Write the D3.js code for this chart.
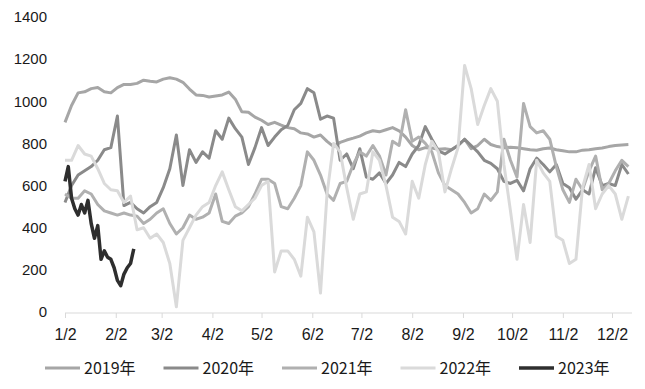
<!DOCTYPE html>
<html>
  <head>
    <meta charset="utf-8">
    <style>
      body { margin: 0; background: #fff; }
      .tick text { fill: #1a1a1a; }
    </style>
  </head>
  <body>
    <script src="https://cdn.jsdelivr.net/npm/d3@7"></script>
    <script>
      // x labels / ticks (2nd of every month)
      var monthLabels = ["1/2", "2/2", "3/2", "4/2", "5/2", "6/2", "7/2", "8/2", "9/2", "10/2", "11/2", "12/2"];
      var yTicks = [0, 200, 400, 600, 800, 1000, 1200, 1400];

      // one value every 4 days, starting 1/2
      var v2019 = [900, 980, 1040, 1045, 1060, 1065, 1045, 1040, 1065, 1080, 1080, 1085, 1100, 1095, 1092, 1105, 1112, 1105, 1090, 1058,
                   1030, 1028, 1020, 1025, 1030, 1044, 1010, 950, 948, 925, 910, 890, 900, 887, 875, 870, 850, 845, 830, 840,
                   810, 785, 805, 816, 825, 835, 850, 860, 855, 865, 875, 860, 830, 790, 770, 780, 778, 772, 775, 770,
                   790, 820, 775, 790, 820, 795, 785, 780, 782, 780, 775, 770, 768, 775, 778, 770, 765, 760, 760, 768,
                   770, 775, 778, 785, 790, 793, 795];
      var v2020 = [520, 600, 650, 670, 690, 720, 770, 780, 930, 505, 520, 490, 470, 500, 520, 590, 680, 840, 600, 770,
                   710, 760, 730, 860, 820, 920, 870, 830, 700, 780, 875, 790, 830, 865, 885, 960, 990, 1060, 1040, 915,
                   930, 920, 720, 750, 680, 775, 640, 630, 660, 610, 650, 710, 690, 750, 790, 880, 820, 765, 750, 770,
                   790, 820, 790, 760, 720, 705, 680, 620, 610, 625, 575, 680, 730, 700, 665, 700, 610, 590, 535, 580,
                   560, 685, 600, 610, 600, 700, 655];
      var v2021 = [560, 540, 540, 575, 560, 510, 480, 470, 460, 470, 460, 455, 420, 440, 470, 490, 420, 370, 400, 460,
                   440, 450, 470, 560, 430, 420, 455, 470, 500, 560, 630, 630, 610, 500, 490, 540, 600, 760, 720, 650,
                   560, 530, 610, 620, 700, 760, 740, 790, 740, 650, 810, 790, 960, 810, 830, 800, 760, 660, 600, 580,
                   560, 520, 470, 490, 560, 530, 570, 820, 720, 640, 990, 880, 850, 860, 820, 690, 580, 520, 630, 580,
                   670, 740, 580, 610, 670, 720, 690];
      var v2022 = [720, 720, 790, 750, 740, 680, 610, 580, 575, 520, 550, 390, 400, 350, 370, 330, 230, 25, 340, 400,
                   460, 500, 520, 600, 665, 580, 500, 480, 510, 540, 600, 620, 190, 290, 290, 250, 170, 450, 380, 90,
                   560, 800, 760, 590, 440, 560, 570, 760, 720, 600, 450, 430, 370, 620, 540, 700, 810, 760, 570, 680,
                   780, 1170, 1060, 890, 980, 1060, 1000, 700, 480, 250, 510, 330, 720, 660, 620, 360, 340, 230, 250, 590,
                   700, 490, 560, 600, 560, 440, 550];
      // 2023: one value every 2 days
      var v2023 = [620, 690, 540, 490, 460, 510, 470, 530, 420, 350, 410, 250, 290, 260, 250, 210, 150, 125, 180, 210,
                   230, 300];

      var seriesNames = ["2019年", "2020年", "2021年", "2022年", "2023年"];
      var seriesColors = ["#a6a6a6", "#8a8a8a", "#b0b0b0", "#dadada", "#2e2e2e"];
      var seriesWidths = [3, 3, 3, 3, 3.5];

      var width = 645, height = 389;
      var start = new Date(2001, 0, 2);

      var svg = d3.select("body").append("svg")
          .attr("width", width)
          .attr("height", height)
          .style("font-family", "'DejaVu Sans', sans-serif");

      var x = d3.scaleTime()
          .domain([start, new Date(2001, 11, 2)])
          .range([65, 612]);

      var y = d3.scaleLinear()
          .domain([0, 1400])
          .range([312, 17]);

      function toPoints(values, step) {
        return values.map(function (v, i) {
          return { date: d3.timeDay.offset(start, i * step), value: v };
        });
      }

      var series = [
        toPoints(v2019, 4),
        toPoints(v2020, 4),
        toPoints(v2021, 4),
        toPoints(v2022, 4),
        toPoints(v2023, 2)
      ];

      // y axis: labels only
      var yAxis = svg.append("g")
          .attr("transform", "translate(47,0)")
          .call(d3.axisLeft(y).tickValues(yTicks).tickSize(0).tickPadding(0).tickFormat(d3.format("d")));
      yAxis.select(".domain").remove();
      yAxis.selectAll("text").style("font-size", "15px");

      // x axis
      var tickDates = monthLabels.map(function (d, i) { return new Date(2001, i, 2); });
      var xAxis = svg.append("g")
          .attr("transform", "translate(0,313)")
          .call(d3.axisBottom(x).tickValues(tickDates).tickSize(5).tickPadding(11)
            .tickFormat(function (d, i) { return monthLabels[i]; }));
      xAxis.select(".domain")
          .attr("d", "M65,0H632")
          .attr("stroke", "#d9d9d9");
      xAxis.selectAll("line").attr("stroke", "#d9d9d9");
      xAxis.selectAll("text").style("font-size", "16px");

      var line = d3.line()
          .x(function (d) { return x(d.date); })
          .y(function (d) { return y(d.value); });

      svg.append("g").selectAll("path")
          .data(series)
          .enter()
          .append("path")
          .attr("d", line)
          .attr("fill", "none")
          .attr("stroke", function (d, i) { return seriesColors[i]; })
          .attr("stroke-width", function (d, i) { return seriesWidths[i]; })
          .attr("stroke-linejoin", "round");

      // legend
      var legend = svg.append("g").selectAll("g")
          .data(seriesNames)
          .enter()
          .append("g")
          .attr("transform", function (d, i) { return "translate(" + (45 + i * 118.5) + ",368)"; });

      legend.append("line")
          .attr("x1", 0).attr("x2", 35)
          .attr("stroke", function (d, i) { return seriesColors[i]; })
          .attr("stroke-width", function (d, i) { return seriesWidths[i]; });

      legend.append("text")
          .attr("x", 39)
          .attr("dy", "0.36em")
          .style("font-family", "'Noto Sans CJK SC', sans-serif")
          .style("font-size", "16px")
          .attr("fill", "#1a1a1a")
          .text(function (d) { return d; });
    </script>
  </body>
</html>
